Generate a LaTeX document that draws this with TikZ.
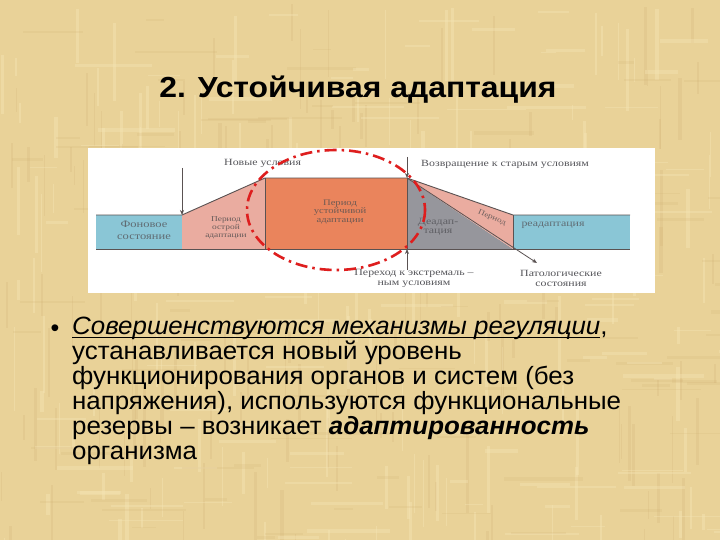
\documentclass[tikz,border=0pt]{standalone}
\usepackage{fontspec}
\setmainfont{Liberation Sans}
\newfontfamily\dserif[FakeStretch=1.25]{Liberation Serif}
\newfontfamily\titlefont[FakeStretch=1.1]{Liberation Sans}
\newfontfamily\bodyfont[FakeStretch=1.035]{Liberation Sans}
\usetikzlibrary{arrows.meta}
\definecolor{paper}{RGB}{233,210,152}
\definecolor{paperlight}{RGB}{245,228,180}
\definecolor{paperdark}{RGB}{205,170,110}
\definecolor{bandblue}{RGB}{138,198,214}
\definecolor{wedgepink}{RGB}{234,172,160}
\definecolor{stableorange}{RGB}{234,132,92}
\definecolor{deadgray}{RGB}{150,150,156}
\definecolor{outline}{RGB}{90,82,82}
\definecolor{labelgray}{RGB}{85,85,90}
\definecolor{ellred}{RGB}{222,30,30}
\newcommand\myul[1]{{\setbox0=\hbox{#1}\rlap{\rule[-3pt]{\wd0}{1.1pt}}\box0}}
\tikzset{
  edge/.style={draw=outline, line width=0.9pt},
  lbl/.style={font=\dserif\fontsize{9.5}{10}\selectfont, text=labelgray, inner sep=0pt, align=center},
  inlbl/.style={inner sep=0pt, align=center},
  darr/.style={draw=outline, line width=0.8pt, -{Stealth[length=5pt,width=4pt]}},
}
\begin{document}
\begin{tikzpicture}[x=1pt,y=-1pt]
\useasboundingbox (0,0) rectangle (720,540);
\fill[paper] (0,0) rectangle (720,540);
% papyrus texture
\pgfmathsetseed{11}
\foreach \i in {1,...,260}{
  \pgfmathsetmacro\xx{rnd*720}
  \pgfmathsetmacro\yy{rnd*540}
  \pgfmathsetmacro\ww{0.8+rnd*3}
  \pgfmathsetmacro\hh{15+rnd*70}
  \pgfmathsetmacro\pick{rnd}
  \ifdim\pick pt<0.5pt
    \fill[paperlight, opacity=0.45] (\xx,\yy) rectangle ++(\ww,\hh);
  \else
    \fill[paperdark, opacity=0.18] (\xx,\yy) rectangle ++(\ww,\hh);
  \fi
}
\foreach \i in {1,...,200}{
  \pgfmathsetmacro\xx{rnd*720}
  \pgfmathsetmacro\yy{rnd*540}
  \pgfmathsetmacro\ww{15+rnd*70}
  \pgfmathsetmacro\hh{0.8+rnd*3}
  \pgfmathsetmacro\pick{rnd}
  \ifdim\pick pt<0.5pt
    \fill[paperlight, opacity=0.4] (\xx,\yy) rectangle ++(\ww,\hh);
  \else
    \fill[paperdark, opacity=0.15] (\xx,\yy) rectangle ++(\ww,\hh);
  \fi
}

% title
\node[font=\titlefont\bfseries\fontsize{29}{32}\selectfont, anchor=base] (title) at (358,98) {2. Устойчивая адаптация};

% picture area
\fill[white] (88,148) rectangle (655,293);

% key points
\coordinate (L0) at (96,215);
\coordinate (A) at (182,215);
\coordinate (Ab) at (182,249);
\coordinate (B) at (265,178);
\coordinate (Bb) at (265,249);
\coordinate (C) at (407,178);
\coordinate (Cb) at (407,249);
\coordinate (D) at (513,215);
\coordinate (Db) at (513,249);
\coordinate (E) at (630,215);
\coordinate (Eb) at (630,249);
\coordinate (P) at (537,263);

% fills
\fill[bandblue] (L0) rectangle (Ab);
\fill[wedgepink] (A) -- (B) -- (Bb) -- (Ab) -- cycle;
\fill[stableorange] (B) rectangle (Cb);
\fill[deadgray] (C) -- (Db) -- (Cb) -- cycle;
\fill[wedgepink] (C) -- (D) -- (Db) -- cycle;
\fill[bandblue] (D) rectangle (Eb);

% outlines
\draw[edge] (L0) -- (A) -- (B) -- (C) -- (D) -- (E);
\draw[edge] (96,249) -- (Eb);
\draw[edge] (B) -- (Bb);
\draw[edge] (C) -- (Cb);
\draw[edge] (D) -- (Db);
\draw[darr] (C) -- (P);

% vertical arrows
\coordinate (a1) at (182,168);
\coordinate (a2) at (407,157);
\coordinate (a3) at (407,270);
\draw[darr] (a1) -- (A);
\draw[darr] (a2) -- (C);
\draw[darr] (a3) -- (Cb);

% labels
\node[lbl, anchor=west] (nu) at (224,163) {Новые условия};
\node[lbl, anchor=west] (vs) at (421,164) {Возвращение к старым условиям};
\node[lbl] (pe) at (414,278) {Переход к экстремаль –\\ным условиям};
\node[lbl] (ps) at (561,278) {Патологические\\состояния};

\node[inlbl, font=\dserif\fontsize{10}{12}\selectfont, text=labelgray!80!bandblue] (fs) at (144,230) {Фоновое\\состояние};
\node[inlbl, font=\dserif\fontsize{7.5}{7.8}\selectfont, text=outline!90!wedgepink] (oa) at (226,228) {Период\\острой\\адаптации};
\node[inlbl, font=\dserif\fontsize{8.5}{8.5}\selectfont, text=outline!85!stableorange] (ua) at (340,212) {Период\\устойчивой\\адаптации};
\node[inlbl, font=\dserif\fontsize{9.5}{8.8}\selectfont, text=labelgray!85!deadgray] (da) at (438,227) {Деадап-\\тация};
\node[inlbl, font=\dserif\fontsize{7.5}{8}\selectfont, text=outline!85!wedgepink, rotate=-24] (pr) at (492,218) {Период};
\node[inlbl, font=\dserif\fontsize{9.5}{10}\selectfont, text=labelgray!80!bandblue] (ra) at (553,225) {реадаптация};

% red dash-dot ellipse
\draw[ellred, line width=2.6pt, dash pattern=on 12pt off 5pt on 2.5pt off 5pt]
  (336,210) ellipse [x radius=89, y radius=60];

% body text
\node[font=\fontsize{25}{25}\selectfont, anchor=base] (bul) at (55,336) {•};
\node[font=\bodyfont\fontsize{25}{24.9}\selectfont, anchor=north west, align=left, inner sep=0pt] (body) at (72,317)
{\myul{\itshape Совершенствуются механизмы регуляции},\\
устанавливается новый уровень\\
функционирования органов и систем (без\\
напряжения), используются функциональные\\
резервы – возникает \textbf{\itshape адаптированность}\\
организма};
\end{tikzpicture}
\end{document}
